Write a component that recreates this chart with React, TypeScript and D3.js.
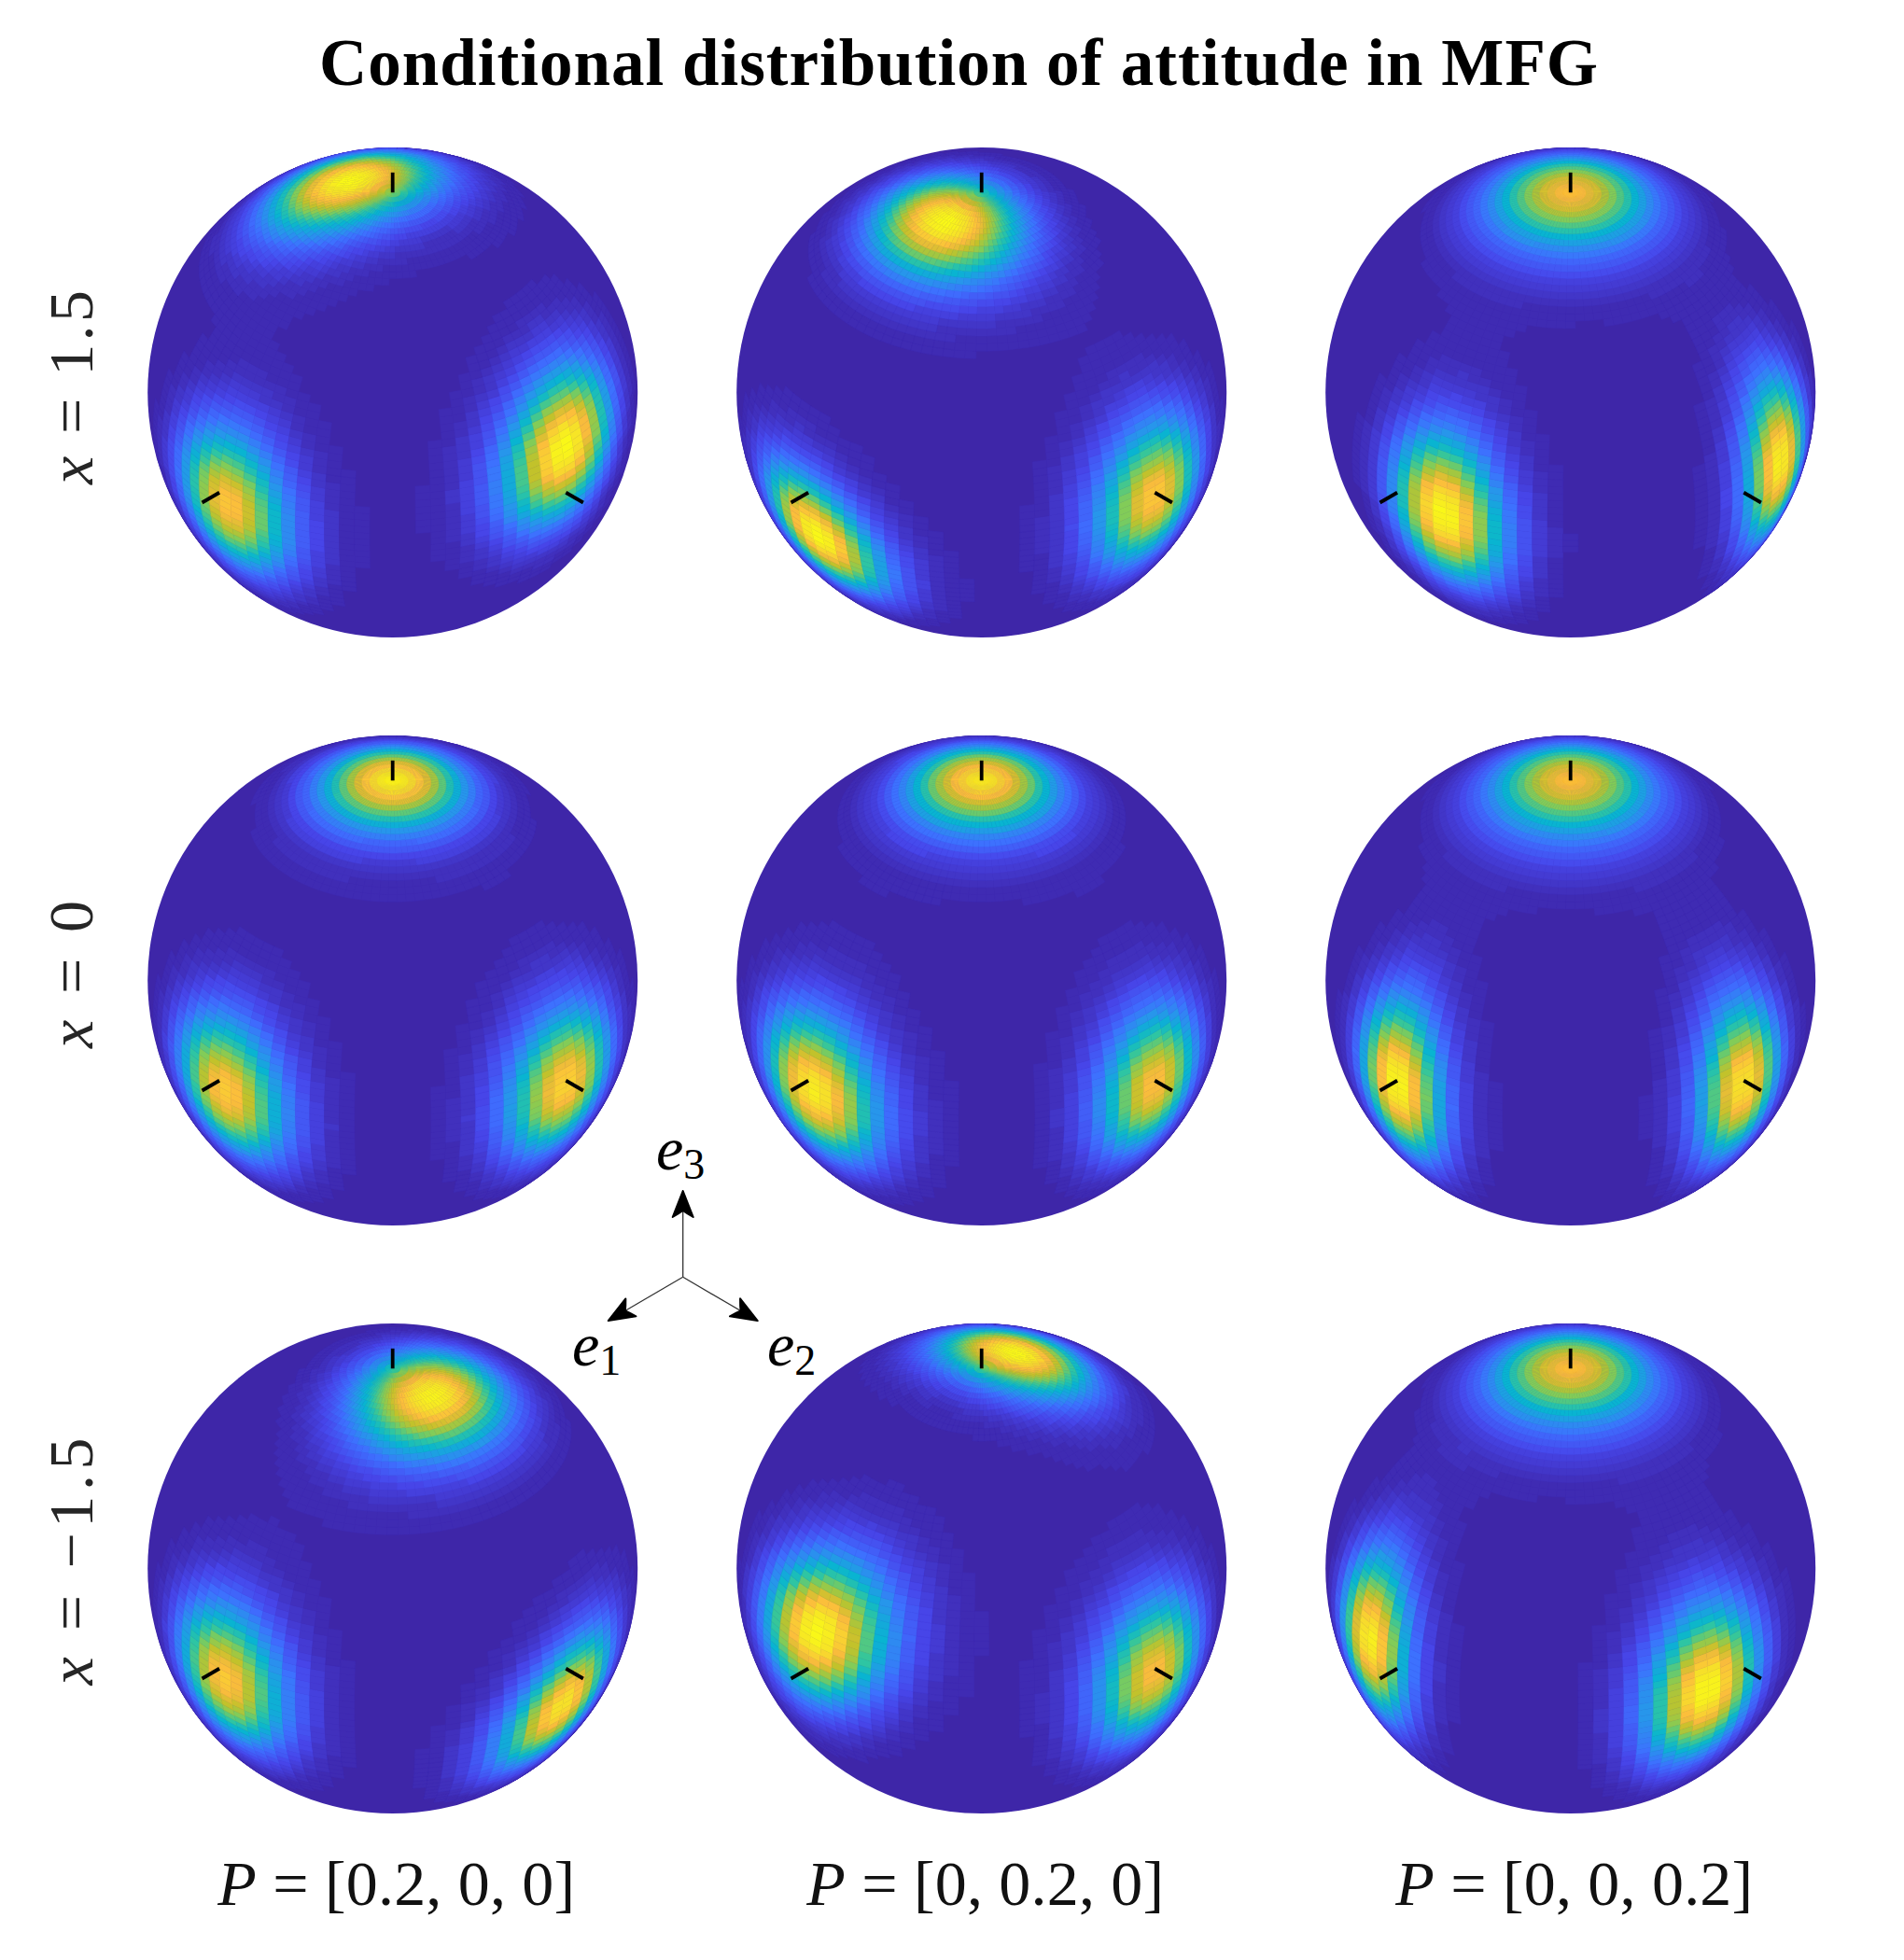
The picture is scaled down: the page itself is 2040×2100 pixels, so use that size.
import React from "react";
import * as d3 from "d3";

const WIDTH = 2040;
const HEIGHT = 2100;
const TITLE = "Conditional distribution of attitude in MFG";

const columnCentres = [420.7, 1051.7, 1682.7];
const rowCentres = [420.6, 1050.6, 1680.6];
const RADIUS = 262.5;

const rowValues = ["1.5", "0", "\u22121.5"];
const rowLabelCentres = [415, 1044, 1673];
const rowLabelLengths = [208, 158, 265];
const columnValues = ["[0.2, 0, 0]", "[0, 0.2, 0]", "[0, 0, 0.2]"];

// Each row is one panel (row by row); each triple is [e3 peak, e1 peak, e2 peak].
const peakLon = [
  [-77, 3, 91], [4, 2, 90], [0, 14, 104],
  [0, 2, 90], [0, 2, 90], [0, 0, 90],
  [91, 2, 90], [180, 2, 90], [0, -10, 79],
];
const peakLat = [
  [78, -2, 12], [77, -12, -1], [90, 0, 1],
  [90, -2, -1], [90, -2, -1], [90, -1, -1],
  [77, -2, -11], [79, 11, -1], [90, 3, -1],
];
const peakAmp = [
  [1.0, 0.84, 1.0], [1.0, 1.0, 0.85], [0.83, 1.0, 0.97],
  [0.97, 0.86, 0.88], [0.94, 0.96, 0.83], [0.83, 1.0, 0.93],
  [0.98, 0.85, 0.93], [1.0, 1.0, 0.82], [0.83, 0.97, 1.0],
];
const peakSigmaMinor = [
  [11, 11, 10.5], [12, 9.5, 11], [12.5, 9.5, 8.5],
  [11, 11, 11], [11.5, 11.5, 10.5], [12.5, 8.5, 8.5],
  [12.5, 11, 9.5], [9.5, 11, 11], [12.5, 8.5, 10],
];
const peakSigmaMajor = [
  [13.5, 12.5, 12.5], [10.5, 12, 12.5], [12.5, 13, 14],
  [11, 12.5, 12.5], [11.5, 12.5, 12.5], [12.5, 14, 14],
  [10.5, 12.5, 12.5], [12, 13.5, 12.5], [12.5, 14, 13.5],
];
const peakTilt = [
  [-56, 0, 50], [0, -60, 0], [0, -6, 0],
  [0, 0, 0], [0, 0, 0], [0, 0, 0],
  [0, 0, 50], [73, 45, 0], [0, 0, 6],
];

const parulaStops = [
  "#3e26a8", "#4747eb", "#3e6fff", "#2796eb", "#08b5d0", "#31c69f",
  "#80cc59", "#c3c22a", "#fcbc3d", "#f6df2a", "#f9fb15",
];

const LON_STEP = 3.6;
const LAT_STEP = 1.8;
const LEVELS = 64;

const colorAt = d3.scaleLinear<string>()
  .domain(parulaStops.map((_, i) => i / (parulaStops.length - 1)))
  .range(parulaStops)
  .interpolate(d3.interpolateRgb)
  .clamp(true);

function densityFn(panel: number) {
  const rotations = peakLon[panel].map((lon, k) => d3.geoRotation([-lon, -peakLat[panel][k]]));
  return (lon: number, lat: number) => {
    let sum = 0;
    rotations.forEach((rot, k) => {
      const [x, y] = rot([lon, lat]);
      const t = (peakTilt[panel][k] * Math.PI) / 180;
      const along = y * Math.cos(t) + x * Math.sin(t);
      const across = x * Math.cos(t) - y * Math.sin(t);
      const r2 = (across / peakSigmaMinor[panel][k]) ** 2 + (along / peakSigmaMajor[panel][k]) ** 2;
      sum += peakAmp[panel][k] * (0.92 * Math.exp(-r2 / 2) + 0.08 * Math.exp(-r2 / 2 / 3.2));
    });
    return Math.max(0, sum - 0.012);
  };
}

function Sphere({ panel, cx, cy }: { panel: number; cx: number; cy: number }) {
  const projection = d3.geoOrthographic().rotate([-45, -35.264]).scale(RADIUS).translate([cx, cy]);
  const density = densityFn(panel);
  const cells: { d: string; fill: string }[] = [];
  for (const lon0 of d3.range(-180, 180, LON_STEP)) {
    for (const lat0 of d3.range(-90, 90, LAT_STEP)) {
      const lonC = lon0 + LON_STEP / 2;
      const latC = lat0 + LAT_STEP / 2;
      if (d3.geoDistance([lonC, latC], [45, 35.264]) > Math.PI / 2 + 0.06) continue;
      const v = density(lonC, latC);
      const level = Math.round(v * (LEVELS - 1));
      if (level < 1) continue;
      const corners = [
        [lon0, lat0], [lon0 + LON_STEP, lat0],
        [lon0 + LON_STEP, lat0 + LAT_STEP], [lon0, lat0 + LAT_STEP],
      ].map((c) => projection(c as [number, number]) as [number, number]);
      cells.push({
        d: "M" + corners.map((p) => `${p[0].toFixed(1)},${p[1].toFixed(1)}`).join("L") + "Z",
        fill: colorAt(level / (LEVELS - 1)),
      });
    }
  }
  const ticks = [[0, 90], [0, 0], [90, 0]].map((c) => {
    const p = projection(c as [number, number]) as [number, number];
    return { x1: p[0], y1: p[1], x2: cx + (p[0] - cx) * 1.1, y2: cy + (p[1] - cy) * 1.1 };
  });
  const id = `disc-${panel}`;
  return (
    <g>
      <clipPath id={id}><circle cx={cx} cy={cy} r={RADIUS} /></clipPath>
      <circle cx={cx} cy={cy} r={RADIUS} fill={parulaStops[0]} />
      <g clipPath={`url(#${id})`}>
        {cells.map((c, i) => (
          <path key={i} d={c.d} fill={c.fill} stroke={c.fill} strokeWidth={0.5} />
        ))}
      </g>
      {ticks.map((t, i) => (
        <line key={i} {...t} stroke="#000" strokeWidth={3.8} />
      ))}
    </g>
  );
}

const MATH = "'Liberation Serif', serif";

const axisOrigin: [number, number] = [731.7, 1368.3];
const axisTips: [number, number][] = [[731.7, 1276], [651.7, 1415], [811.7, 1415]];

function Arrow({ tip }: { tip: [number, number] }) {
  const angle = (Math.atan2(tip[1] - axisOrigin[1], tip[0] - axisOrigin[0]) * 180) / Math.PI;
  return (
    <g>
      <line x1={axisOrigin[0]} y1={axisOrigin[1]} x2={tip[0]} y2={tip[1]} stroke="#333" strokeWidth={1.3} />
      <path
        d="M0,0L-28,-11Q-24,-4,-21,0Q-24,4,-28,11Z"
        transform={`translate(${tip[0]},${tip[1]}) rotate(${angle})`}
        fill="#000" stroke="#000" strokeWidth={2} strokeLinejoin="round"
      />
    </g>
  );
}

function BasisLabel({ x, y, sub }: { x: number; y: number; sub: string }) {
  return (
    <text x={x} y={y} fontFamily={MATH} fontSize={66} fill="#000">
      <tspan fontStyle="italic">e</tspan>
      <tspan dy={10} fontSize={46}>{sub}</tspan>
    </text>
  );
}

export default function App() {
  return (
    <svg width={WIDTH} height={HEIGHT} viewBox={`0 0 ${WIDTH} ${HEIGHT}`}
      style={{ position: "absolute", left: 0, top: 0, background: "#fff" }}>
      <text x={1027} y={91} textAnchor="middle" fontFamily={MATH} fontWeight="bold" fontSize={71}
        textLength={1370} lengthAdjust="spacing" fill="#000">{TITLE}</text>
      {rowCentres.map((cy, r) =>
        columnCentres.map((cx, c) => <Sphere key={`${r}-${c}`} panel={r * 3 + c} cx={cx} cy={cy} />)
      )}
      {rowValues.map((v, r) => (
        <text key={v} transform={`translate(99,${rowLabelCentres[r]}) rotate(-90)`} textAnchor="middle"
          fontFamily={MATH} fontSize={68} textLength={rowLabelLengths[r]} lengthAdjust="spacing" fill="#262626">
          <tspan fontStyle="italic">x</tspan>{` = ${v}`}
        </text>
      ))}
      {columnValues.map((v, c) => (
        <text key={v} x={columnCentres[c] + 4} y={2041} textAnchor="middle" fontFamily={MATH} fontSize={68}
          textLength={383} lengthAdjust="spacing" fill="#111">
          <tspan fontStyle="italic">P</tspan>{` = ${v}`}
        </text>
      ))}
      {axisTips.map((t, i) => <Arrow key={i} tip={t} />)}
      <BasisLabel x={613} y={1463} sub="1" />
      <BasisLabel x={822} y={1463} sub="2" />
      <BasisLabel x={703} y={1253} sub="3" />
    </svg>
  );
}
